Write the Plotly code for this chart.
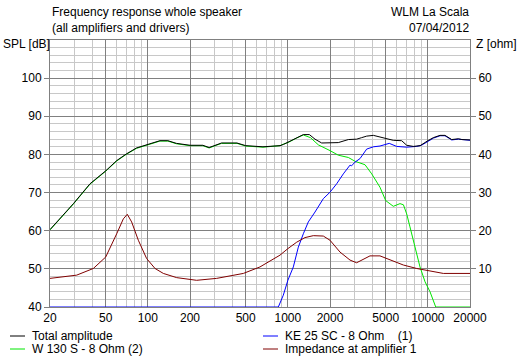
import plotly.graph_objects as go

# ---- data ----
total_f = [20, 25, 29.4, 38.6, 50, 60, 70, 83, 100, 122, 139, 160, 200, 247, 274, 300, 336, 433, 500,
           664, 746, 879, 928, 1000, 1157, 1290, 1424, 1563, 1744, 2000, 2292, 2704, 3098, 3366, 3656,
           4083, 4550, 5000, 5665, 6500, 7060, 7874, 8800, 10000, 10940, 12220, 13250, 14800, 16000,
           16520, 17500, 20000]
total_db = [60.3, 64.3, 67.1, 72.3, 75.7, 78.4, 80.1, 81.7, 82.7, 83.6, 83.6, 82.9, 82.4, 82.4, 81.8,
            82.3, 83.0, 83.0, 82.3, 82.0, 82.2, 82.3, 82.6, 83.2, 84.4, 85.2, 85.2, 84.0, 83.0, 83.0,
            83.1, 83.9, 84.0, 84.4, 84.8, 85.0, 84.6, 84.2, 83.7, 83.6, 82.4, 82.1, 82.3, 83.6, 84.4,
            85.0, 85.0, 83.9, 84.0, 84.1, 83.9, 83.8]

woofer_f = [20, 25, 29.4, 38.6, 50, 60, 70, 83, 100, 122, 139, 160, 200, 247, 274, 300, 336, 433, 500,
            664, 746, 879, 928, 1000, 1157, 1290, 1450, 1652, 2000, 2292, 2704, 3020, 3557, 3972, 4550,
            5000, 5665, 6325, 6690, 7060, 7450, 8100, 8790, 9550, 10360, 11380, 20000]
woofer_db = [60.2, 64.2, 67.0, 72.2, 75.6, 78.3, 80.0, 81.6, 82.6, 83.5, 83.5, 82.8, 82.3, 82.3, 81.7,
             82.2, 82.9, 82.9, 82.2, 81.9, 82.1, 82.3, 82.7, 83.1, 84.3, 85.1, 84.4, 82.5, 81.0, 79.8,
             79.2, 78.2, 77.3, 74.9, 71.4, 67.9, 66.4, 67.1, 66.8, 64.4, 61.0, 55.7, 50.5, 46.6, 44.0,
             40.0, 40.0]

tweeter_f = [20, 855, 928, 1000, 1094, 1188, 1290, 1400, 1563, 1792, 2000, 2232, 2490, 2780, 2850,
             3020, 3275, 3656, 4083, 4550, 5300, 5985, 7060, 8320, 9000, 10000, 11000, 12220, 13250,
             14800, 16520, 20000]
tweeter_db = [40.0, 40.0, 43.1, 47.0, 50.5, 55.7, 59.2, 62.3, 64.9, 68.4, 70.1, 72.3, 74.9, 77.2, 77.0,
              78.0, 78.9, 81.4, 82.0, 82.2, 82.9, 82.1, 81.9, 82.1, 82.4, 83.5, 84.3, 84.9, 84.9, 83.8,
              84.0, 83.7]

imp_f = [20, 31, 40.8, 50, 59.9, 66.8, 71.3, 76.6, 85.5, 98, 112.5, 129, 160.7, 223, 310, 481, 632,
         746, 879, 1000, 1157, 1326, 1520, 1792, 2000, 2358, 2780, 3098, 3557, 3860, 4550, 5370, 6690,
         8320, 10000, 12900, 20000]
imp_ohm = [7.5, 8.35, 10.1, 13.1, 19.2, 23.1, 24.3, 22.3, 17.5, 12.7, 10.1, 8.8, 7.7, 7.0, 7.5, 8.8,
           10.5, 12.1, 13.6, 15.3, 17.0, 18.2, 18.7, 18.6, 17.5, 14.4, 12.3, 11.6, 12.7, 13.4, 13.4,
           12.3, 11.0, 10.1, 9.5, 8.8, 8.8]

x_major = [20, 50, 100, 200, 500, 1000, 2000, 5000, 10000, 20000]
x_minor = [30, 40, 60, 70, 80, 90, 300, 400, 600, 700, 800, 900,
           3000, 4000, 6000, 7000, 8000, 9000]
y_ticks = [40, 50, 60, 70, 80, 90, 100]
y2_ticks = [10, 20, 30, 40, 50, 60]

series_names = ["Total amplitude", "KE 25 SC - 8 Ohm    (1)", "W 130 S - 8 Ohm (2)", "Impedance at amplifier 1"]
series_colors = ["#000000", "#0000ff", "#00e600", "#800000"]

FONT = "Liberation Sans Narrow, Arial Narrow, Liberation Sans, sans-serif"
MAJ = "#808080"
MIN = "#c8c8c8"

fig = go.Figure()
fig.add_trace(go.Scatter(x=imp_f, y=imp_ohm, yaxis="y2", mode="lines",
                         line=dict(color=series_colors[3], width=1), name=series_names[3]))
fig.add_trace(go.Scatter(x=woofer_f, y=woofer_db, mode="lines",
                         line=dict(color=series_colors[2], width=1), name=series_names[2]))
fig.add_trace(go.Scatter(x=tweeter_f, y=tweeter_db, mode="lines",
                         line=dict(color=series_colors[1], width=1), name=series_names[1]))
fig.add_trace(go.Scatter(x=total_f, y=total_db, mode="lines",
                         line=dict(color=series_colors[0], width=1), name=series_names[0]))

fig.update_layout(
    width=517, height=363,
    margin=dict(l=50, r=47, t=40, b=56),
    paper_bgcolor="white", plot_bgcolor="white",
    showlegend=False,
    font=dict(family=FONT, size=12, color="black"),
    xaxis=dict(type="log", range=[1.30103, 4.30103],
               tickmode="array", tickvals=x_major, ticktext=[str(v) for v in x_major],
               showgrid=True, gridcolor=MAJ, gridwidth=1,
               minor=dict(tickmode="array", tickvals=x_minor, showgrid=True, gridcolor=MIN, ticklen=0),
               ticks="", showline=True, linecolor=MAJ, mirror=True, zeroline=False),
    yaxis=dict(range=[40, 110], tickmode="array", tickvals=y_ticks,
               showgrid=True, gridcolor=MAJ, gridwidth=1,
               minor=dict(dtick=2, showgrid=True, gridcolor=MIN, ticklen=0),
               ticks="outside", ticklen=5, tickcolor=MAJ,
               showline=True, linecolor=MAJ, mirror=True, zeroline=False),
    yaxis2=dict(range=[0, 70], overlaying="y", side="right", tickmode="array", tickvals=y2_ticks,
                showgrid=False, zeroline=False, ticks="outside", ticklen=5, tickcolor=MAJ,
                showline=False),
)

W = 420.0
H = 267.0
def px(x):
    return (x - 50) / W
def py(y):
    return (307 - y) / H

ann = [
    dict(text="Frequency response whole speaker", x=px(50), y=py(12), xanchor="left"),
    dict(text="(all amplifiers and drivers)", x=px(50), y=py(28), xanchor="left"),
    dict(text="WLM La Scala", x=px(471), y=py(12), xanchor="right"),
    dict(text="07/04/2012", x=px(471), y=py(28), xanchor="right"),
    dict(text="SPL [dB]", x=px(1), y=py(44), xanchor="left"),
    dict(text="Z [ohm]", x=px(474), y=py(44), xanchor="left"),
]
legend_pos = [(10, 336), (263, 336), (10, 349), (263, 349)]
shapes = []
for (lx, ly), name, col in zip(legend_pos, series_names, series_colors):
    shapes.append(dict(type="line", xref="paper", yref="paper", x0=px(lx), x1=px(lx + 15),
                       y0=py(ly), y1=py(ly), line=dict(color=col, width=1)))
    ann.append(dict(text=name.replace(" ", "&nbsp;"), x=px(lx + 20), y=py(ly), xanchor="left"))

for a in ann:
    a.update(xref="paper", yref="paper", yanchor="middle", showarrow=False,
             font=dict(family=FONT, size=12, color="black"))
fig.update_layout(annotations=ann, shapes=shapes)

fig.write_html("out.html", config={"displayModeBar": False},
               post_script="document.body.style.margin='0';document.body.style.padding='0';")
